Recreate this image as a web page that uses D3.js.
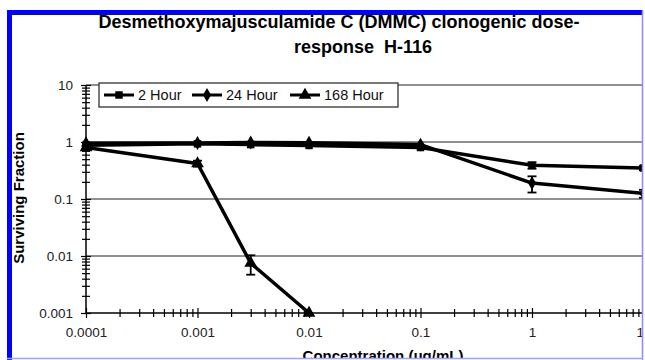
<!DOCTYPE html>
<html><head><meta charset="utf-8">
<script src="https://cdn.jsdelivr.net/npm/d3@7"></script>
<style>body{margin:0;background:#fff}svg{display:block}</style>
</head><body>
<script>
const concentrations = [0.0001, 0.001, 0.003, 0.01, 0.1, 1, 10];
const seriesNames = ["2 Hour", "24 Hour", "168 Hour"];
const hour2 = [0.88, 0.93, 0.9, 0.87, 0.8, 0.39, 0.35];
const hour24 = [0.95, 0.96, 0.98, 0.97, 0.9, 0.19, 0.125];
const hour168 = [0.8, 0.42, 0.0075, 0.001];
const err2 = [0, 0, 0, 0, 0, 0.05, 0.03];
const err24 = [0, 0, 0, 0, 0, 0.06, 0.02];
const err168 = [0.05, 0.05, 0.0028, 0];
const yTicks = [0.001, 0.01, 0.1, 1, 10];
const yTickLabels = ["0.001", "0.01", "0.1", "1", "10"];
const xTicks = [0.0001, 0.001, 0.01, 0.1, 1, 10];
const xTickLabels = ["0.0001", "0.001", "0.01", "0.1", "1", "10"];
const titleLines = ["Desmethoxymajusculamide C (DMMC) clonogenic dose-", "response  H-116"];
const xTitle = "Concentration (\u03bcg/mL)";
const yTitle = "Surviving Fraction";

const W = 645, H = 360;
const svg = d3.select("body").append("svg").attr("width", W).attr("height", H);
svg.append("defs").append("clipPath").attr("id", "frameClip")
  .append("rect").attr("x", 12).attr("y", 15).attr("width", 630).attr("height", 343);

const g = svg.append("g").attr("clip-path", "url(#frameClip)");
const font = "'Liberation Sans', Arial, sans-serif";

const x = d3.scaleLog().domain([1e-4, 10]).range([86, 643.5]);
const y = d3.scaleLog().domain([0.001, 10]).range([313, 85]);

// gridlines
g.append("g").selectAll("line").data(yTicks.slice(1)).join("line")
  .attr("x1", x(1e-4)).attr("x2", x(10))
  .attr("y1", d => y(d)).attr("y2", d => y(d))
  .attr("stroke", "#222").attr("stroke-width", 1.2);

// minor ticks
const minorY = [];
const minorX = [];
for (let e = -3; e < 1; e++) for (let k = 2; k <= 9; k++) minorY.push(k * Math.pow(10, e));
for (let e = -4; e < 1; e++) for (let k = 2; k <= 9; k++) minorX.push(k * Math.pow(10, e));

function styleAxis(sel) {
  sel.select(".domain").remove();
  sel.selectAll("line").attr("stroke", "#000").attr("stroke-width", 1.2);
  sel.selectAll("text").attr("font-family", font).attr("font-size", 13.5).attr("fill", "#222");
}
const yAx = g.append("g").attr("transform", `translate(${x(1e-4)},0)`);
yAx.append("g").call(d3.axisLeft(y).tickValues(yTicks).tickSize(5).tickPadding(8)
  .tickFormat((d, i) => yTickLabels[i])).call(styleAxis);
yAx.append("g").call(d3.axisRight(y).tickValues(yTicks).tickSize(5).tickFormat("")).call(styleAxis);
yAx.append("g").call(d3.axisLeft(y).tickValues(minorY).tickSize(4).tickFormat("")).call(styleAxis);
yAx.append("g").call(d3.axisRight(y).tickValues(minorY).tickSize(4).tickFormat("")).call(styleAxis);
yAx.append("line").attr("y1", y(10)).attr("y2", y(0.001)).attr("stroke", "#000").attr("stroke-width", 1.5);

const xAx = g.append("g").attr("transform", `translate(0,${y(0.001)})`);
xAx.append("g").call(d3.axisBottom(x).tickValues(xTicks).tickSize(5).tickPadding(9)
  .tickFormat((d, i) => xTickLabels[i])).call(styleAxis);
xAx.append("g").call(d3.axisTop(x).tickValues(xTicks).tickSize(5).tickFormat("")).call(styleAxis);
xAx.append("g").call(d3.axisBottom(x).tickValues(minorX).tickSize(4).tickFormat("")).call(styleAxis);
xAx.append("g").call(d3.axisTop(x).tickValues(minorX).tickSize(4).tickFormat("")).call(styleAxis);
xAx.append("line").attr("x1", x(1e-4)).attr("x2", x(10)).attr("stroke", "#000").attr("stroke-width", 1.5);

// series
const series = [
  {name: seriesNames[0], vals: hour2, err: err2, marker: d3.symbolSquare, size: 56},
  {name: seriesNames[1], vals: hour24, err: err24, marker: d3.symbolDiamond, size: 56},
  {name: seriesNames[2], vals: hour168, err: err168, marker: d3.symbolTriangle, size: 70}
];
const line = d3.line().x(d => x(d.c)).y(d => y(d.v));
series.forEach(s => {
  const pts = s.vals.map((v, i) => ({c: concentrations[i], v, e: s.err[i]}));
  const sg = g.append("g");
  pts.filter(p => p.e > 0).forEach(p => {
    const y1 = y(p.v - p.e), y2 = y(p.v + p.e), cx = x(p.c);
    sg.append("line").attr("x1", cx).attr("x2", cx).attr("y1", y1).attr("y2", y2).attr("stroke", "#000").attr("stroke-width", 1.8);
    [y1, y2].forEach(yy => sg.append("line").attr("x1", cx - 4.5).attr("x2", cx + 4.5).attr("y1", yy).attr("y2", yy).attr("stroke", "#000").attr("stroke-width", 1.8));
  });
  sg.append("path").datum(pts).attr("d", line).attr("fill", "none").attr("stroke", "#000").attr("stroke-width", 3.5).attr("stroke-linejoin", "round");
  sg.selectAll("path.m").data(pts).join("path").attr("class", "m")
    .attr("transform", d => `translate(${x(d.c)},${y(d.v)})`)
    .attr("d", d3.symbol().type(s.marker).size(s.size)).attr("fill", "#000");
});

// legend
const lg = g.append("g");
lg.append("rect").attr("x", 99).attr("y", 83).attr("width", 299).attr("height", 24)
  .attr("fill", "#fff").attr("stroke", "#222").attr("stroke-width", 1.2);
const legX = [104, 192, 290];
series.forEach((s, i) => {
  const lx = legX[i];
  lg.append("line").attr("x1", lx).attr("x2", lx + 30).attr("y1", 95).attr("y2", 95).attr("stroke", "#000").attr("stroke-width", 3);
  lg.append("path").attr("transform", `translate(${lx + 15},95)`).attr("d", d3.symbol().type(s.marker).size(s.size)).attr("fill", "#000");
  lg.append("text").attr("x", lx + 34).attr("y", 100).attr("font-family", font).attr("font-size", 14.5).attr("fill", "#111").text(s.name);
});

// titles
g.append("text").attr("x", 339).attr("y", 28).attr("text-anchor", "middle").attr("font-family", font)
  .attr("font-weight", "bold").attr("font-size", 18).text(titleLines[0]);
g.append("text").attr("x", 363).attr("y", 53).attr("text-anchor", "middle").attr("font-family", font)
  .attr("font-weight", "bold").attr("font-size", 18).style("white-space", "pre").text(titleLines[1]);
g.append("text").attr("x", 383).attr("y", 361).attr("text-anchor", "middle").attr("font-family", font)
  .attr("font-weight", "bold").attr("font-size", 15).text(xTitle);
g.append("text").attr("transform", "translate(24,198) rotate(-90)").attr("text-anchor", "middle").attr("font-family", font)
  .attr("font-weight", "bold").attr("font-size", 15).text(yTitle);

// frame
svg.append("line").attr("x1", 7).attr("x2", 643).attr("y1", 12.5).attr("y2", 12.5).attr("stroke", "#0000ff").attr("stroke-width", 5);
svg.append("line").attr("x1", 9.5).attr("x2", 9.5).attr("y1", 10).attr("y2", 360).attr("stroke", "#0000ff").attr("stroke-width", 5);
svg.append("line").attr("x1", 642.5).attr("x2", 642.5).attr("y1", 10).attr("y2", 360).attr("stroke", "#8c8cff").attr("stroke-width", 1.5);
svg.append("line").attr("x1", 7).attr("x2", 643).attr("y1", 358.5).attr("y2", 358.5).attr("stroke", "#a0a0ff").attr("stroke-width", 1.5);
</script>
</body></html>
